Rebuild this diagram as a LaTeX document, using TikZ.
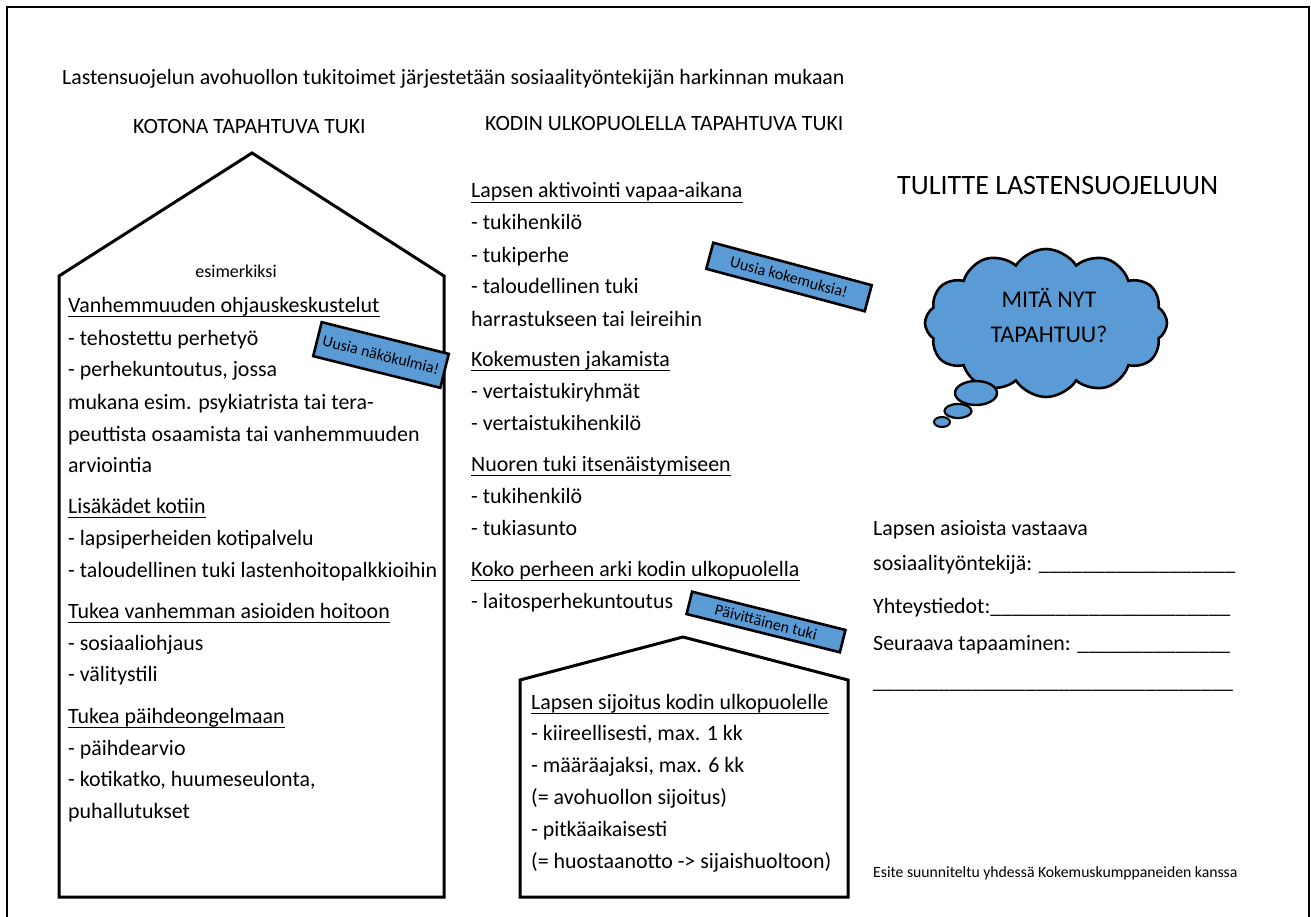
\documentclass[tikz,border=0pt]{standalone}
\usepackage{fontspec}
\setmainfont{Carlito}
\usetikzlibrary{shapes.symbols,shapes.geometric}
\definecolor{tagblue}{RGB}{91,155,213}
\tikzset{
  body/.style={anchor=base west, inner sep=0pt, font=\fontsize{21.9}{26}\selectfont},
  tag/.style={draw=black, line width=2.6pt, fill=tagblue, inner sep=0pt, font=\fontsize{16}{19}\selectfont},
  house/.style={draw=black, line width=3pt, line join=miter},
  bubble/.style={ellipse, draw=black, fill=tagblue, inner sep=0pt},
  uline/.style={line width=1.4pt},
}
\newcommand{\ul}[1]{\draw[uline] ([yshift=-4.5pt]#1.base west) -- ([yshift=-4.5pt]#1.base east);}
\begin{document}
\begin{tikzpicture}[x=1pt,y=-1pt]
\useasboundingbox (0,0) rectangle (1311,917);
% page frame
\draw[line width=1.6pt] (7,917) -- (7,7) -- (1309,7) -- (1309,917);
% houses
\draw[house] (59,897) -- (59,276) -- (252,153) -- (444,276) -- (444,897) -- cycle;
\draw[house] (520,897) -- (520,680) -- (683,637) -- (848,680) -- (848,897) -- cycle;
% titles
\node[body, font=\fontsize{21.8}{26}\selectfont] (intro) at (62,85) {Lastensuojelun avohuollon tukitoimet järjestetään sosiaalityöntekijän harkinnan mukaan};
\node[body, font=\fontsize{21.8}{26}\selectfont] (t1) at (133,134) {KOTONA TAPAHTUVA TUKI};
\node[body, font=\fontsize{21.8}{26}\selectfont] (t2) at (485,131) {KODIN ULKOPUOLELLA TAPAHTUVA TUKI};
\node[body, font=\fontsize{28}{32}\selectfont] (t3) at (897,195) {TULITTE LASTENSUOJELUUN};
% left house
\node[anchor=base, inner sep=0pt, font=\fontsize{18}{22}\selectfont] (esim) at (236,277) {esimerkiksi};
\node[body] (a1) at (68,312) {Vanhemmuuden ohjauskeskustelut}; \ul{a1}
\node[body] (a2) at (68,345) {- tehostettu perhetyö};
\node[body] (a3) at (68,376) {- perhekuntoutus, jossa};
\node[body] (a4) at (68,409) {mukana esim. psykiatrista tai tera-};
\node[body] (a5) at (68,441) {peuttista osaamista tai vanhemmuuden};
\node[body] (a6) at (68,472) {arviointia};
\node[body] (b1) at (68,513) {Lisäkädet kotiin}; \ul{b1}
\node[body] (b2) at (68,545) {- lapsiperheiden kotipalvelu};
\node[body] (b3) at (68,577) {- taloudellinen tuki lastenhoitopalkkioihin};
\node[body] (c1) at (68,618) {Tukea vanhemman asioiden hoitoon}; \ul{c1}
\node[body] (c2) at (68,650) {- sosiaaliohjaus};
\node[body] (c3) at (68,681) {- välitystili};
\node[body] (d1) at (68,723) {Tukea päihdeongelmaan}; \ul{d1}
\node[body] (d2) at (68,755) {- päihdearvio};
\node[body] (d3) at (68,786) {- kotikatko, huumeseulonta,};
\node[body] (d4) at (68,818) {puhallutukset};
% middle column
\node[body] (e1) at (471,198) {Lapsen aktivointi vapaa-aikana}; \ul{e1}
\node[body] (e2) at (471,230) {- tukihenkilö};
\node[body] (e3) at (471,262) {- tukiperhe};
\node[body] (e4) at (471,294) {- taloudellinen tuki};
\node[body] (e5) at (471,326) {harrastukseen tai leireihin};
\node[body] (f1) at (471,366) {Kokemusten jakamista}; \ul{f1}
\node[body] (f2) at (471,398) {- vertaistukiryhmät};
\node[body] (f3) at (471,430) {- vertaistukihenkilö};
\node[body] (g1) at (471,471) {Nuoren tuki itsenäistymiseen}; \ul{g1}
\node[body] (g2) at (471,503) {- tukihenkilö};
\node[body] (g3) at (471,535) {- tukiasunto};
\node[body] (h1) at (471,576) {Koko perheen arki kodin ulkopuolella}; \ul{h1}
\node[body] (h2) at (471,608) {- laitosperhekuntoutus};
% small house
\node[body] (s1) at (531,709) {Lapsen sijoitus kodin ulkopuolelle}; \ul{s1}
\node[body] (s2) at (531,740) {- kiireellisesti, max. 1 kk};
\node[body] (s3) at (531,772) {- määräajaksi, max. 6 kk};
\node[body] (s4) at (531,804) {(= avohuollon sijoitus)};
\node[body] (s5) at (531,836) {- pitkäaikaisesti};
\node[body] (s6) at (531,868) {(= huostaanotto -> sijaishuoltoon)};
% right column
\node[body] (r1) at (873,535) {Lapsen asioista vastaava};
\node[body] (r2) at (873,570) {sosiaalityöntekijä: \_\_\_\_\_\_\_\_\_\_\_\_\_\_\_\_\_\_};
\node[body] (r3) at (873,613) {Yhteystiedot:\_\_\_\_\_\_\_\_\_\_\_\_\_\_\_\_\_\_\_\_\_\_};
\node[body] (r4) at (873,650) {Seuraava tapaaminen: \_\_\_\_\_\_\_\_\_\_\_\_\_\_};
\node[body] (r5) at (873,688) {\_\_\_\_\_\_\_\_\_\_\_\_\_\_\_\_\_\_\_\_\_\_\_\_\_\_\_\_\_\_\_\_\_};
\node[body, font=\fontsize{15.7}{18}\selectfont] (esite) at (873,877) {Esite suunniteltu yhdessä Kokemuskumppaneiden kanssa};
% cloud
\node[cloud, cloud puffs=12, cloud puff arc=115, aspect=1.6, draw=black, line width=2.6pt, fill=tagblue, minimum width=242pt, minimum height=148pt, inner sep=0pt] (cloud) at (1046,323) {};
\node[bubble, line width=2.4pt, minimum width=42pt, minimum height=24pt] (bub1) at (976,393) {};
\node[bubble, line width=2.2pt, minimum width=27pt, minimum height=14pt] (bub2) at (958,411) {};
\node[bubble, line width=2pt, minimum width=16pt, minimum height=10pt] (bub3) at (942,422) {};
\node[align=center, inner sep=0pt, font=\fontsize{24}{35}\selectfont] (ctext) at (1049,315) {MITÄ NYT\\TAPAHTUU?};
% tags
\node[tag, rotate=-14, minimum width=131pt, minimum height=35pt] (tag1) at (381,355) {Uusia näkökulmia!};
\node[tag, rotate=-15, minimum width=164pt, minimum height=27pt] (tag2) at (789,277) {Uusia kokemuksia!};
\node[tag, rotate=-14, minimum width=158pt, minimum height=23pt] (tag3) at (766,622) {Päivittäinen tuki};
\end{tikzpicture}
\end{document}
